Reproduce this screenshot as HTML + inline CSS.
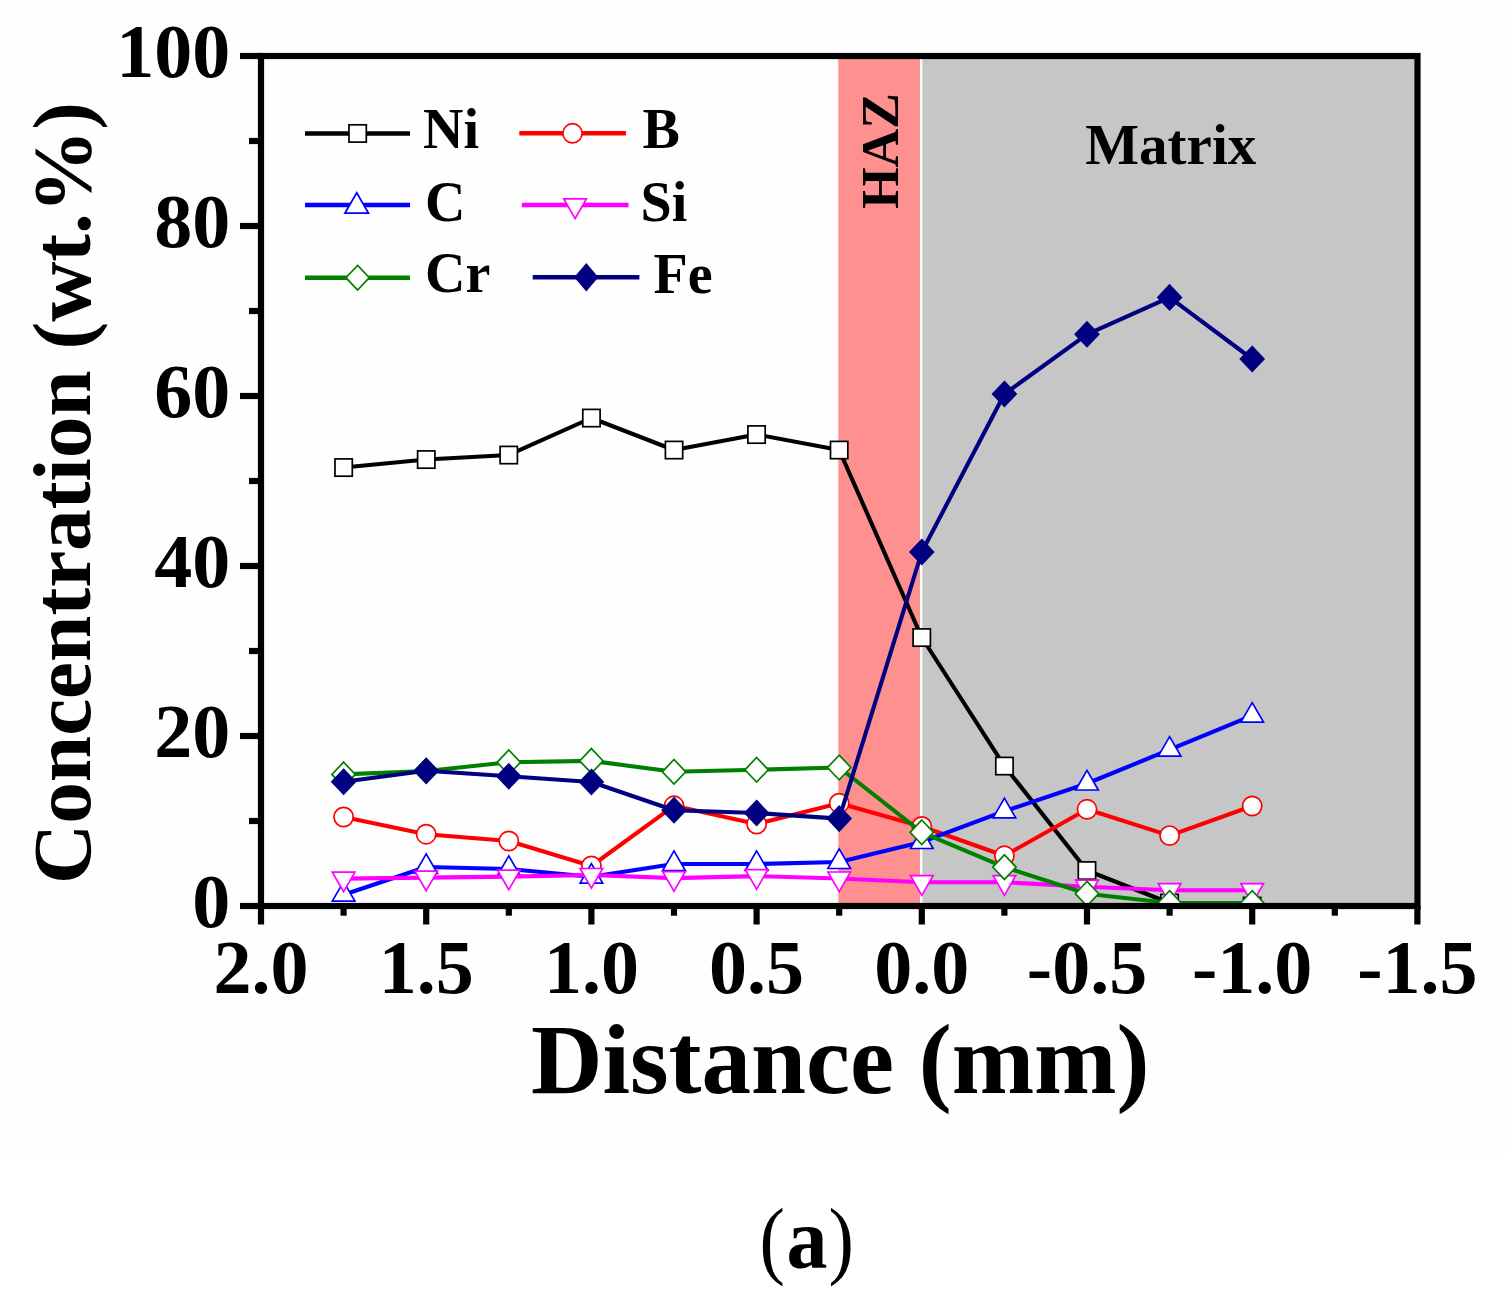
<!DOCTYPE html>
<html><head><meta charset="utf-8"><title>Concentration vs Distance</title>
<style>
html,body{margin:0;padding:0;background:#fff;}
body{width:1506px;height:1310px;overflow:hidden;position:relative;}
svg{position:absolute;left:0;top:0;display:block;}
.t{font-family:"Liberation Serif","Times New Roman",serif;font-weight:bold;fill:#000;}
</style></head><body>
<svg width="1506" height="1310" viewBox="0 0 1506 1310">
<defs><clipPath id="pa"><rect x="261.0" y="56.0" width="1156.5" height="850.0"/></clipPath></defs>
<rect x="0" y="0" width="1506" height="1156" fill="#fefefe"/>
<rect x="838.3" y="56.0" width="81.7" height="850.0" fill="#ff9090"/>
<rect x="922.4" y="56.0" width="495.1" height="850.0" fill="#c6c6c6"/>
<g clip-path="url(#pa)">
<polyline points="343.6,467.5 426.2,459.5 508.8,455.0 591.4,418.0 674.0,450.0 756.6,434.5 839.2,450.0 921.8,637.5 1004.4,766.0 1087.0,870.5 1169.6,903.0 1252.2,906.0" fill="none" stroke="#000" stroke-width="4.1" stroke-linejoin="round"/>
<rect x="335.0" y="458.9" width="17.3" height="17.3" fill="#fff" stroke="#000" stroke-width="1.7"/>
<rect x="417.6" y="450.9" width="17.3" height="17.3" fill="#fff" stroke="#000" stroke-width="1.7"/>
<rect x="500.1" y="446.4" width="17.3" height="17.3" fill="#fff" stroke="#000" stroke-width="1.7"/>
<rect x="582.8" y="409.4" width="17.3" height="17.3" fill="#fff" stroke="#000" stroke-width="1.7"/>
<rect x="665.4" y="441.4" width="17.3" height="17.3" fill="#fff" stroke="#000" stroke-width="1.7"/>
<rect x="747.9" y="425.9" width="17.3" height="17.3" fill="#fff" stroke="#000" stroke-width="1.7"/>
<rect x="830.5" y="441.4" width="17.3" height="17.3" fill="#fff" stroke="#000" stroke-width="1.7"/>
<rect x="913.1" y="628.9" width="17.3" height="17.3" fill="#fff" stroke="#000" stroke-width="1.7"/>
<rect x="995.8" y="757.4" width="17.3" height="17.3" fill="#fff" stroke="#000" stroke-width="1.7"/>
<rect x="1078.3" y="861.9" width="17.3" height="17.3" fill="#fff" stroke="#000" stroke-width="1.7"/>
<rect x="1160.9" y="894.4" width="17.3" height="17.3" fill="#fff" stroke="#000" stroke-width="1.7"/>
<rect x="1243.5" y="897.4" width="17.3" height="17.3" fill="#fff" stroke="#000" stroke-width="1.7"/>
<polyline points="343.6,817.0 426.2,834.2 508.8,841.0 591.4,866.0 674.0,805.8 756.6,824.0 839.2,803.2 921.8,826.5 1004.4,855.8 1087.0,809.3 1169.6,835.6 1252.2,806.0" fill="none" stroke="#f00" stroke-width="4.1" stroke-linejoin="round"/>
<circle cx="343.6" cy="817.0" r="9.6" fill="#fff" stroke="#f00" stroke-width="1.7"/>
<circle cx="426.2" cy="834.2" r="9.6" fill="#fff" stroke="#f00" stroke-width="1.7"/>
<circle cx="508.8" cy="841.0" r="9.6" fill="#fff" stroke="#f00" stroke-width="1.7"/>
<circle cx="591.4" cy="866.0" r="9.6" fill="#fff" stroke="#f00" stroke-width="1.7"/>
<circle cx="674.0" cy="805.8" r="9.6" fill="#fff" stroke="#f00" stroke-width="1.7"/>
<circle cx="756.6" cy="824.0" r="9.6" fill="#fff" stroke="#f00" stroke-width="1.7"/>
<circle cx="839.2" cy="803.2" r="9.6" fill="#fff" stroke="#f00" stroke-width="1.7"/>
<circle cx="921.8" cy="826.5" r="9.6" fill="#fff" stroke="#f00" stroke-width="1.7"/>
<circle cx="1004.4" cy="855.8" r="9.6" fill="#fff" stroke="#f00" stroke-width="1.7"/>
<circle cx="1087.0" cy="809.3" r="9.6" fill="#fff" stroke="#f00" stroke-width="1.7"/>
<circle cx="1169.6" cy="835.6" r="9.6" fill="#fff" stroke="#f00" stroke-width="1.7"/>
<circle cx="1252.2" cy="806.0" r="9.6" fill="#fff" stroke="#f00" stroke-width="1.7"/>
<polyline points="343.6,894.7 426.2,867.0 508.8,869.0 591.4,876.7 674.0,864.0 756.6,864.0 839.2,862.0 921.8,842.0 1004.4,811.2 1087.0,783.5 1169.6,749.7 1252.2,715.7" fill="none" stroke="#00f" stroke-width="4.1" stroke-linejoin="round"/>
<polygon points="343.6,881.6 354.9,901.2 332.3,901.2" fill="#fff" stroke="#00f" stroke-width="1.7"/>
<polygon points="426.2,853.9 437.5,873.5 414.9,873.5" fill="#fff" stroke="#00f" stroke-width="1.7"/>
<polygon points="508.8,855.9 520.1,875.5 497.5,875.5" fill="#fff" stroke="#00f" stroke-width="1.7"/>
<polygon points="591.4,863.6 602.7,883.2 580.1,883.2" fill="#fff" stroke="#00f" stroke-width="1.7"/>
<polygon points="674.0,850.9 685.3,870.5 662.7,870.5" fill="#fff" stroke="#00f" stroke-width="1.7"/>
<polygon points="756.6,850.9 767.9,870.5 745.3,870.5" fill="#fff" stroke="#00f" stroke-width="1.7"/>
<polygon points="839.2,848.9 850.5,868.5 827.9,868.5" fill="#fff" stroke="#00f" stroke-width="1.7"/>
<polygon points="921.8,828.9 933.1,848.5 910.5,848.5" fill="#fff" stroke="#00f" stroke-width="1.7"/>
<polygon points="1004.4,798.1 1015.7,817.8 993.1,817.8" fill="#fff" stroke="#00f" stroke-width="1.7"/>
<polygon points="1087.0,770.4 1098.3,790.0 1075.7,790.0" fill="#fff" stroke="#00f" stroke-width="1.7"/>
<polygon points="1169.6,736.6 1180.9,756.2 1158.3,756.2" fill="#fff" stroke="#00f" stroke-width="1.7"/>
<polygon points="1252.2,702.6 1263.5,722.2 1240.9,722.2" fill="#fff" stroke="#00f" stroke-width="1.7"/>
<polyline points="343.6,878.6 426.2,877.6 508.8,876.6 591.4,875.0 674.0,878.1 756.6,876.1 839.2,878.5 921.8,882.2 1004.4,882.2 1087.0,886.7 1169.6,890.2 1252.2,890.2" fill="none" stroke="#f0f" stroke-width="4.1" stroke-linejoin="round"/>
<polygon points="343.6,891.7 354.9,872.1 332.3,872.1" fill="#fff" stroke="#f0f" stroke-width="1.7"/>
<polygon points="426.2,890.7 437.5,871.1 414.9,871.1" fill="#fff" stroke="#f0f" stroke-width="1.7"/>
<polygon points="508.8,889.7 520.1,870.1 497.5,870.1" fill="#fff" stroke="#f0f" stroke-width="1.7"/>
<polygon points="591.4,888.1 602.7,868.5 580.1,868.5" fill="#fff" stroke="#f0f" stroke-width="1.7"/>
<polygon points="674.0,891.2 685.3,871.6 662.7,871.6" fill="#fff" stroke="#f0f" stroke-width="1.7"/>
<polygon points="756.6,889.2 767.9,869.6 745.3,869.6" fill="#fff" stroke="#f0f" stroke-width="1.7"/>
<polygon points="839.2,891.6 850.5,872.0 827.9,872.0" fill="#fff" stroke="#f0f" stroke-width="1.7"/>
<polygon points="921.8,895.3 933.1,875.7 910.5,875.7" fill="#fff" stroke="#f0f" stroke-width="1.7"/>
<polygon points="1004.4,895.3 1015.7,875.7 993.1,875.7" fill="#fff" stroke="#f0f" stroke-width="1.7"/>
<polygon points="1087.0,899.8 1098.3,880.2 1075.7,880.2" fill="#fff" stroke="#f0f" stroke-width="1.7"/>
<polygon points="1169.6,903.3 1180.9,883.7 1158.3,883.7" fill="#fff" stroke="#f0f" stroke-width="1.7"/>
<polygon points="1252.2,903.3 1263.5,883.7 1240.9,883.7" fill="#fff" stroke="#f0f" stroke-width="1.7"/>
<polyline points="343.6,774.4 426.2,771.0 508.8,762.3 591.4,760.9 674.0,771.8 756.6,769.8 839.2,767.5 921.8,832.3 1004.4,867.1 1087.0,893.7 1169.6,903.0 1252.2,903.0" fill="none" stroke="#008000" stroke-width="4.1" stroke-linejoin="round"/>
<polygon points="343.6,762.1 355.3,774.4 343.6,786.7 331.9,774.4" fill="#fff" stroke="#008000" stroke-width="1.7"/>
<polygon points="426.2,758.7 437.9,771.0 426.2,783.3 414.5,771.0" fill="#fff" stroke="#008000" stroke-width="1.7"/>
<polygon points="508.8,750.0 520.5,762.3 508.8,774.6 497.1,762.3" fill="#fff" stroke="#008000" stroke-width="1.7"/>
<polygon points="591.4,748.6 603.1,760.9 591.4,773.2 579.7,760.9" fill="#fff" stroke="#008000" stroke-width="1.7"/>
<polygon points="674.0,759.5 685.7,771.8 674.0,784.1 662.3,771.8" fill="#fff" stroke="#008000" stroke-width="1.7"/>
<polygon points="756.6,757.5 768.3,769.8 756.6,782.1 744.9,769.8" fill="#fff" stroke="#008000" stroke-width="1.7"/>
<polygon points="839.2,755.2 850.9,767.5 839.2,779.8 827.5,767.5" fill="#fff" stroke="#008000" stroke-width="1.7"/>
<polygon points="921.8,820.0 933.5,832.3 921.8,844.6 910.1,832.3" fill="#fff" stroke="#008000" stroke-width="1.7"/>
<polygon points="1004.4,854.8 1016.1,867.1 1004.4,879.4 992.7,867.1" fill="#fff" stroke="#008000" stroke-width="1.7"/>
<polygon points="1087.0,881.4 1098.7,893.7 1087.0,906.0 1075.3,893.7" fill="#fff" stroke="#008000" stroke-width="1.7"/>
<polygon points="1169.6,890.7 1181.3,903.0 1169.6,915.3 1157.9,903.0" fill="#fff" stroke="#008000" stroke-width="1.7"/>
<polygon points="1252.2,890.7 1263.9,903.0 1252.2,915.3 1240.5,903.0" fill="#fff" stroke="#008000" stroke-width="1.7"/>
<polyline points="343.6,781.7 426.2,770.8 508.8,776.3 591.4,782.0 674.0,810.2 756.6,813.0 839.2,818.6 921.8,552.0 1004.4,394.0 1087.0,334.3 1169.6,297.4 1252.2,359.0" fill="none" stroke="#000080" stroke-width="4.1" stroke-linejoin="round"/>
<polygon points="343.6,769.4 355.3,781.7 343.6,794.0 331.9,781.7" fill="#000080" stroke="#000080" stroke-width="1.7"/>
<polygon points="426.2,758.5 437.9,770.8 426.2,783.1 414.5,770.8" fill="#000080" stroke="#000080" stroke-width="1.7"/>
<polygon points="508.8,764.0 520.5,776.3 508.8,788.6 497.1,776.3" fill="#000080" stroke="#000080" stroke-width="1.7"/>
<polygon points="591.4,769.7 603.1,782.0 591.4,794.3 579.7,782.0" fill="#000080" stroke="#000080" stroke-width="1.7"/>
<polygon points="674.0,797.9 685.7,810.2 674.0,822.5 662.3,810.2" fill="#000080" stroke="#000080" stroke-width="1.7"/>
<polygon points="756.6,800.7 768.3,813.0 756.6,825.3 744.9,813.0" fill="#000080" stroke="#000080" stroke-width="1.7"/>
<polygon points="839.2,806.3 850.9,818.6 839.2,830.9 827.5,818.6" fill="#000080" stroke="#000080" stroke-width="1.7"/>
<polygon points="921.8,539.7 933.5,552.0 921.8,564.3 910.1,552.0" fill="#000080" stroke="#000080" stroke-width="1.7"/>
<polygon points="1004.4,381.7 1016.1,394.0 1004.4,406.3 992.7,394.0" fill="#000080" stroke="#000080" stroke-width="1.7"/>
<polygon points="1087.0,322.0 1098.7,334.3 1087.0,346.6 1075.3,334.3" fill="#000080" stroke="#000080" stroke-width="1.7"/>
<polygon points="1169.6,285.1 1181.3,297.4 1169.6,309.7 1157.9,297.4" fill="#000080" stroke="#000080" stroke-width="1.7"/>
<polygon points="1252.2,346.7 1263.9,359.0 1252.2,371.3 1240.5,359.0" fill="#000080" stroke="#000080" stroke-width="1.7"/>
</g>
<g stroke="#000" stroke-width="6.2" stroke-linecap="butt">
<line x1="240.0" y1="906.0" x2="261.0" y2="906.0"/>
<line x1="240.0" y1="736.0" x2="261.0" y2="736.0"/>
<line x1="240.0" y1="566.0" x2="261.0" y2="566.0"/>
<line x1="240.0" y1="396.0" x2="261.0" y2="396.0"/>
<line x1="240.0" y1="226.0" x2="261.0" y2="226.0"/>
<line x1="240.0" y1="56.0" x2="261.0" y2="56.0"/>
<line x1="249.0" y1="821.0" x2="261.0" y2="821.0"/>
<line x1="249.0" y1="651.0" x2="261.0" y2="651.0"/>
<line x1="249.0" y1="481.0" x2="261.0" y2="481.0"/>
<line x1="249.0" y1="311.0" x2="261.0" y2="311.0"/>
<line x1="249.0" y1="141.0" x2="261.0" y2="141.0"/>
<line x1="261.0" y1="906.0" x2="261.0" y2="924.5"/>
<line x1="426.2" y1="906.0" x2="426.2" y2="924.5"/>
<line x1="591.4" y1="906.0" x2="591.4" y2="924.5"/>
<line x1="756.6" y1="906.0" x2="756.6" y2="924.5"/>
<line x1="921.8" y1="906.0" x2="921.8" y2="924.5"/>
<line x1="1087.0" y1="906.0" x2="1087.0" y2="924.5"/>
<line x1="1252.2" y1="906.0" x2="1252.2" y2="924.5"/>
<line x1="1417.4" y1="906.0" x2="1417.4" y2="924.5"/>
<line x1="343.6" y1="906.0" x2="343.6" y2="915.7"/>
<line x1="508.8" y1="906.0" x2="508.8" y2="915.7"/>
<line x1="674.0" y1="906.0" x2="674.0" y2="915.7"/>
<line x1="839.2" y1="906.0" x2="839.2" y2="915.7"/>
<line x1="1004.4" y1="906.0" x2="1004.4" y2="915.7"/>
<line x1="1169.6" y1="906.0" x2="1169.6" y2="915.7"/>
<line x1="1334.8" y1="906.0" x2="1334.8" y2="915.7"/>
<rect x="261.0" y="56.0" width="1156.5" height="850.0" fill="none"/>
</g>
<g class="t" font-size="76">
<text x="230.3" y="926.8" text-anchor="end">0</text>
<text x="230.3" y="756.8" text-anchor="end">20</text>
<text x="230.3" y="586.8" text-anchor="end">40</text>
<text x="230.3" y="416.8" text-anchor="end">60</text>
<text x="230.3" y="246.8" text-anchor="end">80</text>
<text x="230.3" y="76.8" text-anchor="end">100</text>
<text x="261.0" y="993.2" text-anchor="middle">2.0</text>
<text x="426.2" y="993.2" text-anchor="middle">1.5</text>
<text x="591.4" y="993.2" text-anchor="middle">1.0</text>
<text x="756.6" y="993.2" text-anchor="middle">0.5</text>
<text x="921.8" y="993.2" text-anchor="middle">0.0</text>
<text x="1087.0" y="993.2" text-anchor="middle">-0.5</text>
<text x="1252.2" y="993.2" text-anchor="middle">-1.0</text>
<text x="1417.4" y="993.2" text-anchor="middle">-1.5</text>
</g>
<g>
<line x1="305" y1="133.5" x2="410" y2="133.5" stroke="#000" stroke-width="4.6"/>
<rect x="349.0" y="124.8" width="17.3" height="17.3" fill="#fff" stroke="#000" stroke-width="1.7"/>
<line x1="305" y1="205" x2="410" y2="205" stroke="#00f" stroke-width="4.6"/>
<polygon points="356.7,192.8 368.5,213.2 344.9,213.2" fill="#fff" stroke="#00f" stroke-width="1.7"/>
<line x1="305" y1="277.7" x2="410" y2="277.7" stroke="#008000" stroke-width="4.6"/>
<polygon points="357.6,265.4 369.3,277.7 357.6,290.0 345.9,277.7" fill="#fff" stroke="#008000" stroke-width="1.7"/>
<line x1="519.3" y1="133.3" x2="625.9" y2="133.3" stroke="#f00" stroke-width="4.6"/>
<circle cx="572.5" cy="133.3" r="9.6" fill="#fff" stroke="#f00" stroke-width="1.7"/>
<line x1="521.8" y1="205" x2="628.5" y2="205" stroke="#f0f" stroke-width="4.6"/>
<polygon points="575.1,218.6 586.4,198.9 563.8,198.9" fill="#fff" stroke="#f0f" stroke-width="1.7"/>
<line x1="532.7" y1="277.2" x2="639.4" y2="277.2" stroke="#000080" stroke-width="4.6"/>
<polygon points="586.3,264.2 597.3,277.2 586.3,290.2 575.3,277.2" fill="#000080" stroke="#000080" stroke-width="1.7"/>
</g>
<g class="t" font-size="56">
<text x="423" y="147.8">Ni</text>
<text x="425" y="220.8">C</text>
<text x="425" y="292.2">Cr</text>
<text x="642.5" y="147.8">B</text>
<text x="640.5" y="220.8">Si</text>
<text x="653.5" y="293.4">Fe</text>
<text x="1085.3" y="163.6" font-size="57">Matrix</text>
</g>
<text class="t" font-size="53.5" transform="translate(897.5,209) rotate(-90)">HAZ</text>
<text class="t" font-size="83.3" transform="translate(89.8,884) rotate(-90)">Concentration (wt.%)</text>
<text class="t" font-size="99" x="531" y="1093.4">Distance (mm)</text>
<g font-family="Liberation Serif, serif" font-size="86" fill="#000"><text transform="translate(759.6,1268) scale(0.885,1)">(</text><text transform="translate(786.5,1268) scale(0.953,1)" font-weight="bold">a</text><text transform="translate(828.6,1268) scale(0.885,1)">)</text></g>
</svg>
</body></html>
